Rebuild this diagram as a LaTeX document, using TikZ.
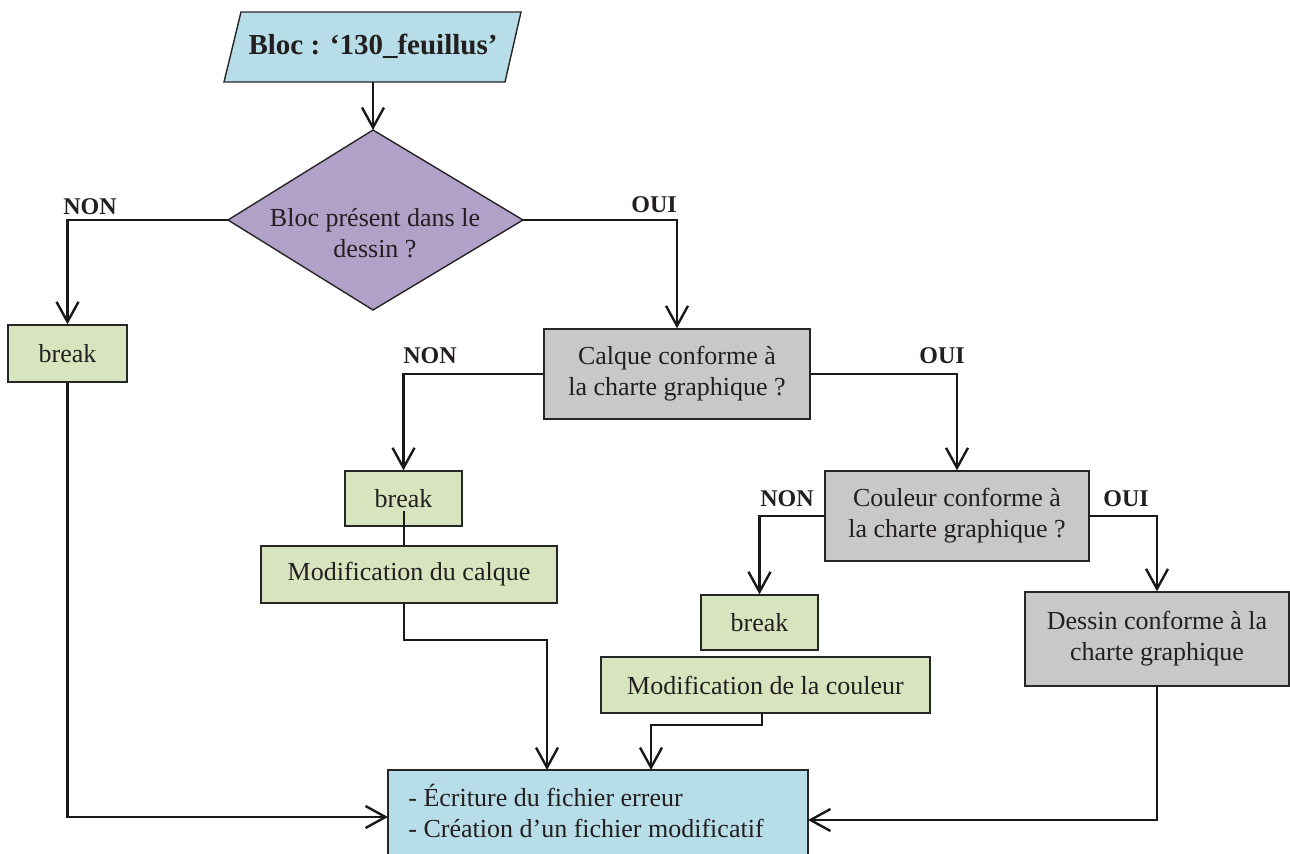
\documentclass[tikz,border=0pt]{standalone}
\usepackage{fontspec}
\setmainfont{Liberation Serif}
\usetikzlibrary{arrows.meta}
\definecolor{bluefill}{RGB}{183,221,232}
\definecolor{purplefill}{RGB}{177,160,199}
\definecolor{grayfill}{RGB}{200,200,200}
\definecolor{greenfill}{RGB}{215,228,189}
\definecolor{txt}{RGB}{35,31,32}
\begin{document}
\begin{tikzpicture}[x=0.5pt,y=-0.5pt,
  box/.style={draw=black!85, line width=0.7pt, inner sep=0pt, align=center, text=txt, font=\fontsize{13}{15.5}\selectfont},
  greenbox/.style={box, fill=greenfill},
  graybox/.style={box, fill=grayfill},
  plain/.style={inner sep=0pt, align=center, text=txt, font=\fontsize{13}{15.5}\selectfont},
  conn/.style={line width=1.2pt, draw=black!90},
  arr/.style={conn, -{Straight Barb[length=10pt,width=11pt,line width=1.2pt]}},
  lbl/.style={font=\fontsize{12}{14}\selectfont\bfseries, text=txt}
]
\useasboundingbox (0,0) rectangle (1290,853);
\clip (0,0) rectangle (1290,853);

% title parallelogram
\coordinate (tTL) at (241,12);
\coordinate (tTR) at (521,12);
\coordinate (tBR) at (505,82);
\coordinate (tBL) at (224,82);
\coordinate (tB) at (373,82);
\filldraw[fill=bluefill, draw=black!85, line width=0.7pt] (tTL) -- (tTR) -- (tBR) -- (tBL) -- cycle;
\node[plain, font=\fontsize{14.5}{17}\selectfont\bfseries] (title) at (373,46) {Bloc : ‘130\_feuillus’};

% diamond
\coordinate (dT) at (373,130);
\coordinate (dR) at (523,220);
\coordinate (dB) at (373,310);
\coordinate (dL) at (228,220);
\filldraw[fill=purplefill, draw=black!85, line width=0.7pt] (dT) -- (dR) -- (dB) -- (dL) -- cycle;
\node[plain] (dia) at (375,233) {Bloc présent dans le\\dessin ?};

% boxes
\node[greenbox, minimum width=59.5pt, minimum height=28.5pt] (break1) at (67.5,353.5) {break};
\node[graybox, minimum width=133pt, minimum height=45pt] (calque) at (677,374) {Calque conforme à\\la charte graphique ?};
\node[greenbox, minimum width=58.5pt, minimum height=27.5pt] (break2) at (403.5,498.5) {break};
\node[greenbox, minimum width=148pt, minimum height=28.5pt] (modcal) at (409,574.5) {Modification du calque};
\node[graybox, minimum width=132pt, minimum height=45pt] (couleur) at (957,516) {Couleur conforme à\\la charte graphique ?};
\node[greenbox, minimum width=58.5pt, minimum height=27.5pt] (break3) at (759.5,622.5) {break};
\node[greenbox, minimum width=164.5pt, minimum height=28pt] (modcoul) at (765.5,685) {Modification de la couleur};
\node[graybox, minimum width=132pt, minimum height=47pt] (dessin) at (1157,639) {Dessin conforme à la\\charte graphique};
\node[box, fill=bluefill, minimum width=210pt, minimum height=50pt] (fin) at (598,820) {};
\node[plain, align=left, anchor=west] (fintext) at (408,811) {- Écriture du fichier erreur\\- Création d’un fichier modificatif};

% labels
\node[lbl] (non1) at (90,207) {NON};
\node[lbl] (oui1) at (654,205) {OUI};
\node[lbl] (non2) at (430,356) {NON};
\node[lbl] (oui2) at (942,356) {OUI};
\node[lbl] (non3) at (787,499) {NON};
\node[lbl] (oui3) at (1126,499) {OUI};

% connector helper coordinates
\coordinate (inL) at (388,817);
\coordinate (inR) at (808,820);
\coordinate (b2in) at (404,511);
\coordinate (m0) at (404,603);
\coordinate (m1) at (404,640);
\coordinate (m2) at (547,640);
\coordinate (f1) at (547,770);
\coordinate (c0) at (762,713);
\coordinate (c1) at (762,725);
\coordinate (c2) at (651,725);
\coordinate (f2) at (651,770);

% connectors
\draw[arr] (tB) -- (dT);
\draw[arr] (dL) -| (break1.north);
\draw[arr] (break1.south) |- (inL);
\draw[arr] (dR) -| (calque.north);
\draw[arr] (calque.west) -| (break2.north);
\draw[arr] (calque.east) -| (couleur.north);
\draw[conn] (b2in) -- (b2in |- modcal.north);
\draw[arr] (m0) -- (m1) -- (m2) -- (f1);
\draw[arr] (couleur.west) -| (break3.north);
\draw[arr] (couleur.east) -| (dessin.north);
\draw[arr] (c0) -- (c1) -- (c2) -- (f2);
\draw[arr] (dessin.south) |- (inR);
\end{tikzpicture}
\end{document}
